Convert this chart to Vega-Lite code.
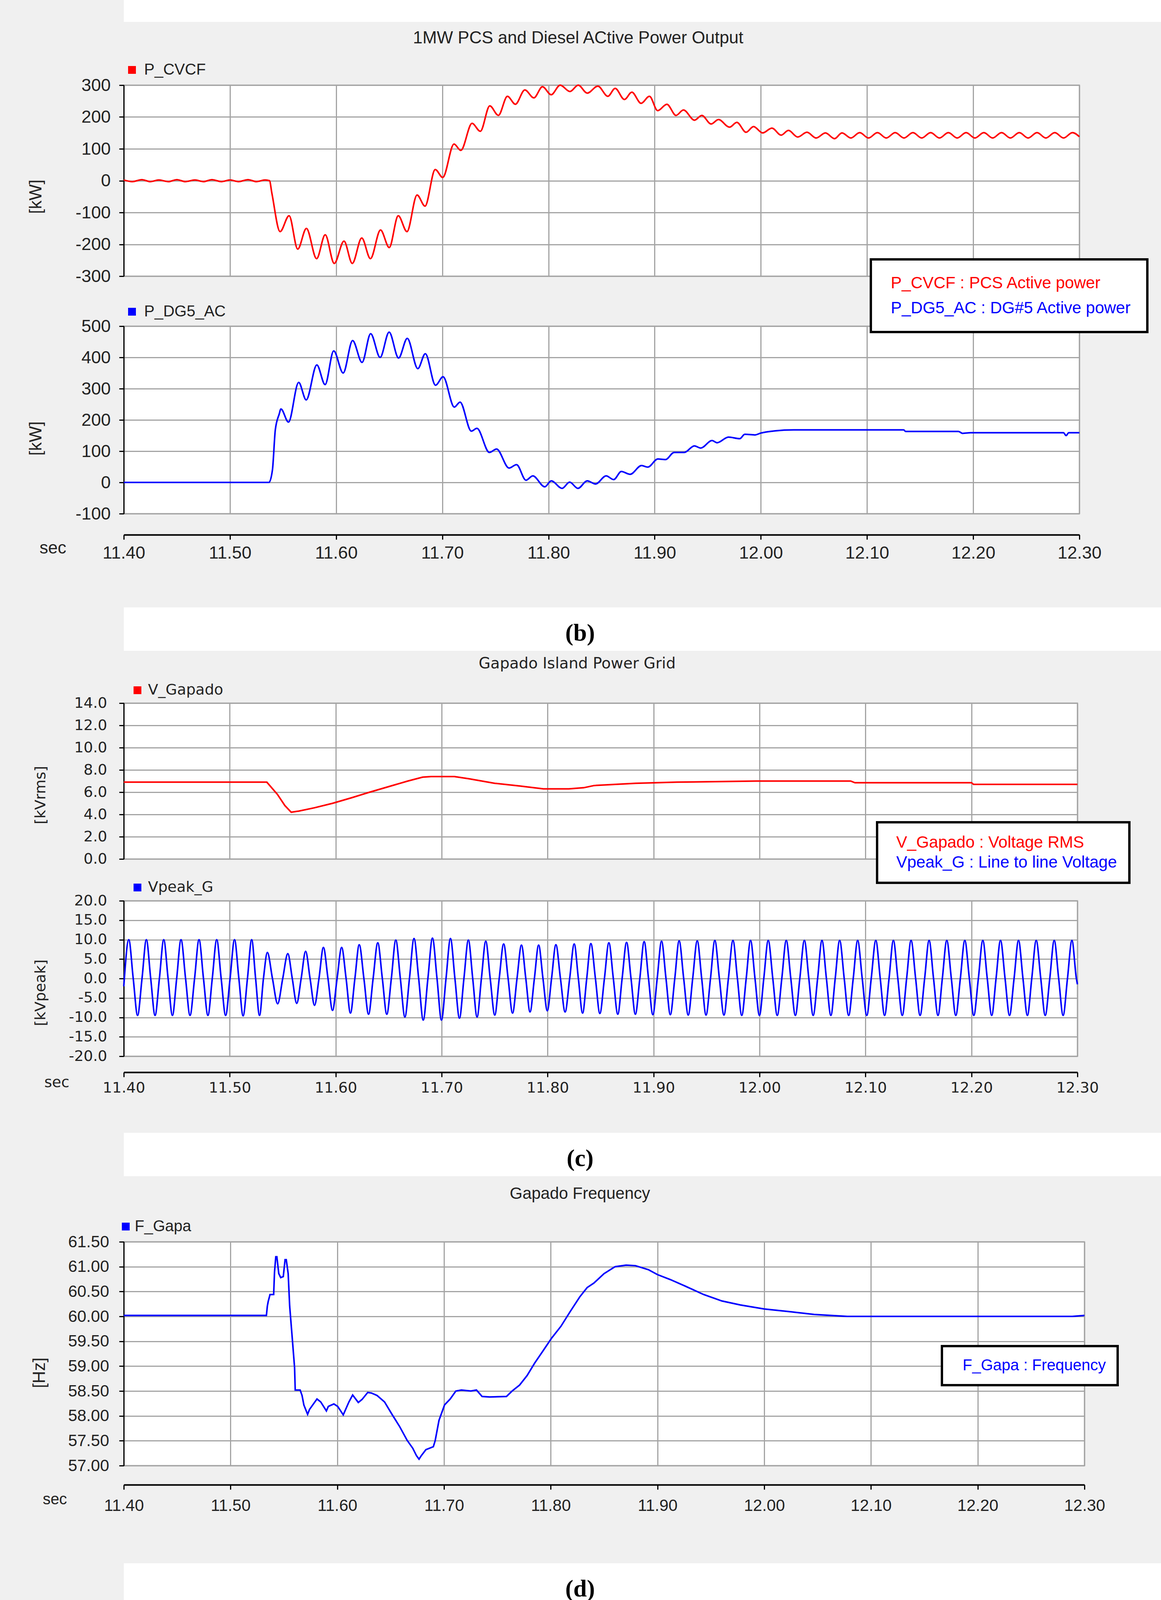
{
  "$schema": "https://vega.github.io/schema/vega-lite/v6.json",
  "background": "#f0f0f0",
  "padding": {"left": 68, "top": 0, "right": 0, "bottom": 0},
  "bounds": "flush",
  "spacing": 0,
  "resolve": {"scale": {"color": "independent", "fill": "independent"}, "legend": {"color": "independent", "fill": "independent"}},
  "config": {
    "axis": {"gridColor": "#a4a4a4", "gridWidth": 3, "domainColor": "#000000", "domainWidth": 3, "tickColor": "#000000", "tickWidth": 3, "tickSize": 12, "labelColor": "#222222", "titleColor": "#222222", "titleFontWeight": "normal", "labelOverlap": false, "labelFlush": false},
    "legend": {"labelLimit": 3000}
  },
  "datasets": {
    "pcvcf": [
      {"t":11.4,"v":2},{"t":11.408,"v":-3},{"t":11.417,"v":3},{"t":11.425,"v":-3},{"t":11.433,"v":2},{"t":11.442,"v":-3},{"t":11.45,"v":3},{"t":11.458,"v":-3},{"t":11.467,"v":2},{"t":11.475,"v":-3},{"t":11.483,"v":3},{"t":11.492,"v":-3},{"t":11.5,"v":2},{"t":11.508,"v":-3},{"t":11.517,"v":3},{"t":11.525,"v":-3},{"t":11.533,"v":2},{"t":11.5372,"v":0},
      {"t":11.5395,"v":-40},{"t":11.5472,"v":-160},{"t":11.5557,"v":-110},{"t":11.5638,"v":-215},{"t":11.572,"v":-150},{"t":11.5816,"v":-245},{"t":11.5897,"v":-170},{"t":11.5982,"v":-260},{"t":11.6074,"v":-190},{"t":11.6152,"v":-260},{"t":11.6241,"v":-180},{"t":11.6323,"v":-245},{"t":11.6418,"v":-155},{"t":11.65,"v":-210},{"t":11.6585,"v":-110},{"t":11.6667,"v":-160},{"t":11.6762,"v":-45},{"t":11.6837,"v":-80},{"t":11.6933,"v":35},{"t":11.7004,"v":10},{"t":11.711,"v":115},{"t":11.7174,"v":95},{"t":11.728,"v":180},{"t":11.7358,"v":155},{"t":11.7447,"v":235},{"t":11.7528,"v":205},{"t":11.7613,"v":265},{"t":11.7688,"v":240},{"t":11.7777,"v":285},{"t":11.7862,"v":260},{"t":11.7943,"v":295},{"t":11.8025,"v":270},{"t":11.811,"v":300},{"t":11.8202,"v":280},{"t":11.828,"v":300},{"t":11.8365,"v":275},{"t":11.8465,"v":297},{"t":11.8559,"v":265},{"t":11.8628,"v":290},{"t":11.8715,"v":255},{"t":11.8785,"v":278},{"t":11.8872,"v":243},{"t":11.8951,"v":265},{"t":11.9028,"v":220},{"t":11.9115,"v":240},{"t":11.9201,"v":205},{"t":11.9271,"v":222},{"t":11.9375,"v":190},{"t":11.9444,"v":205},{"t":11.9531,"v":178},{"t":11.9601,"v":192},{"t":11.9705,"v":168},{"t":11.9774,"v":183},{"t":11.9861,"v":152},{"t":11.9931,"v":170},{"t":12.0017,"v":150},{"t":12.0104,"v":165},{"t":12.0191,"v":143},{"t":12.026,"v":158},{"t":12.0347,"v":137},{"t":12.0434,"v":152},{"t":12.0521,"v":134},{"t":12.0608,"v":150},{"t":12.0694,"v":132},{"t":12.0764,"v":150},
      {"t":12.0848,"v":134},{"t":12.0931,"v":151},{"t":12.1014,"v":134},{"t":12.1098,"v":151},{"t":12.1181,"v":134},{"t":12.1265,"v":151},{"t":12.1348,"v":134},{"t":12.1432,"v":151},{"t":12.1515,"v":134},{"t":12.1599,"v":151},{"t":12.1682,"v":134},{"t":12.1766,"v":151},{"t":12.1849,"v":134},{"t":12.1933,"v":151},{"t":12.2016,"v":134},{"t":12.21,"v":151},{"t":12.2183,"v":134},{"t":12.2267,"v":151},{"t":12.235,"v":134},{"t":12.2434,"v":151},{"t":12.2517,"v":134},{"t":12.2601,"v":151},{"t":12.2684,"v":134},{"t":12.2768,"v":151},{"t":12.2851,"v":134},{"t":12.2935,"v":151},{"t":12.3,"v":138}
    ],
    "pdg5": [
      {"t":11.4,"v":0},{"t":11.5367,"v":0},{"t":11.54,"v":40},{"t":11.5427,"v":168},{"t":11.5463,"v":218},{"t":11.548,"v":235},{"t":11.5551,"v":193},{"t":11.5647,"v":320},{"t":11.5718,"v":264},{"t":11.5818,"v":376},{"t":11.5896,"v":313},{"t":11.5977,"v":421},{"t":11.6066,"v":350},{"t":11.6155,"v":454},{"t":11.6244,"v":384},{"t":11.6325,"v":476},{"t":11.6414,"v":400},{"t":11.6499,"v":481},{"t":11.6588,"v":398},{"t":11.667,"v":461},{"t":11.6769,"v":364},{"t":11.684,"v":412},{"t":11.6936,"v":311},{"t":11.7007,"v":338},{"t":11.7113,"v":241},{"t":11.7167,"v":257},{"t":11.7273,"v":164},{"t":11.7326,"v":173},{"t":11.7443,"v":96},{"t":11.7511,"v":107},{"t":11.7628,"v":46},{"t":11.7699,"v":57},{"t":11.7788,"v":7},{"t":11.7852,"v":21},{"t":11.7965,"v":-14},{"t":11.8026,"v":5},{"t":11.8128,"v":-19},{"t":11.8199,"v":1},{"t":11.8277,"v":-19},{"t":11.8365,"v":5},{"t":11.8443,"v":-5},{"t":11.8543,"v":21},{"t":11.8614,"v":9},{"t":11.8686,"v":35},{"t":11.8769,"v":26},{"t":11.8876,"v":54},{"t":11.8935,"v":49},{"t":11.903,"v":75},{"t":11.9101,"v":73},{"t":11.9184,"v":96},{"t":11.9279,"v":96},{"t":11.9374,"v":117},{"t":11.9434,"v":110},{"t":11.954,"v":134},{"t":11.9588,"v":127},{"t":11.9695,"v":145},{"t":11.9801,"v":140},{"t":11.9849,"v":154},{"t":11.9944,"v":152},{"t":12.0,"v":158},{"t":12.0134,"v":165},{"t":12.0308,"v":168},{"t":12.1346,"v":168},{"t":12.1363,"v":163},{"t":12.1861,"v":163},{"t":12.19,"v":157},{"t":12.1976,"v":159},{"t":12.285,"v":159},{"t":12.2875,"v":150},{"t":12.29,"v":159},{"t":12.3,"v":159}
    ],
    "vgap": [
      {"t":11.4,"v":6.9},{"t":11.535,"v":6.9},{"t":11.545,"v":5.8},{"t":11.552,"v":4.8},{"t":11.558,"v":4.2},{"t":11.565,"v":4.3},{"t":11.58,"v":4.6},{"t":11.597,"v":5.0},{"t":11.615,"v":5.5},{"t":11.632,"v":6.0},{"t":11.65,"v":6.5},{"t":11.668,"v":7.0},{"t":11.682,"v":7.35},{"t":11.69,"v":7.4},{"t":11.712,"v":7.4},{"t":11.726,"v":7.2},{"t":11.75,"v":6.8},{"t":11.774,"v":6.55},{"t":11.796,"v":6.3},{"t":11.82,"v":6.3},{"t":11.834,"v":6.4},{"t":11.844,"v":6.6},{"t":11.883,"v":6.8},{"t":11.922,"v":6.9},{"t":11.997,"v":7.0},{"t":12.086,"v":7.0},{"t":12.09,"v":6.85},{"t":12.2,"v":6.85},{"t":12.202,"v":6.7},{"t":12.3,"v":6.7}
    ],
    "vpeak": [
      {"t":11.4,"v":-2},
      {"t":11.4047,"v":10},{"t":11.4089,"v":0},{"t":11.413,"v":-9.5},{"t":11.4172,"v":0},
      {"t":11.4213,"v":10},{"t":11.4254,"v":0},{"t":11.4295,"v":-9.5},{"t":11.4336,"v":0},
      {"t":11.4377,"v":10},{"t":11.4418,"v":0},{"t":11.4459,"v":-9.5},{"t":11.4499,"v":0},
      {"t":11.454,"v":10},{"t":11.4583,"v":0},{"t":11.4625,"v":-9.5},{"t":11.4668,"v":0},
      {"t":11.471,"v":10},{"t":11.4752,"v":0},{"t":11.4794,"v":-9.5},{"t":11.4835,"v":0},
      {"t":11.4877,"v":10},{"t":11.4919,"v":0},{"t":11.4961,"v":-9.5},{"t":11.5003,"v":0},
      {"t":11.5045,"v":10},{"t":11.5086,"v":0},{"t":11.5126,"v":-9.6},{"t":11.5167,"v":0},
      {"t":11.5207,"v":10},{"t":11.5244,"v":0},{"t":11.5281,"v":-9.5},{"t":11.5318,"v":0},
      {"t":11.5355,"v":6.7},{"t":11.5403,"v":0},{"t":11.5452,"v":-6.5},{"t":11.55,"v":0},
      {"t":11.5548,"v":6.4},{"t":11.559,"v":0},{"t":11.5632,"v":-6.4},{"t":11.5674,"v":0},
      {"t":11.5716,"v":7.0},{"t":11.5758,"v":0},{"t":11.58,"v":-6.9},{"t":11.5842,"v":0},
      {"t":11.5884,"v":8.0},{"t":11.5927,"v":0},{"t":11.597,"v":-8.2},{"t":11.6013,"v":0},
      {"t":11.6056,"v":8.0},{"t":11.6098,"v":0},{"t":11.6139,"v":-8.9},{"t":11.6181,"v":0},
      {"t":11.6222,"v":8.7},{"t":11.6266,"v":0},{"t":11.631,"v":-9.2},{"t":11.6353,"v":0},
      {"t":11.6397,"v":9.2},{"t":11.644,"v":0},{"t":11.6482,"v":-9.2},{"t":11.6525,"v":0},
      {"t":11.6567,"v":9.9},{"t":11.661,"v":0},{"t":11.6653,"v":-9.9},{"t":11.6696,"v":0},
      {"t":11.6739,"v":10.3},{"t":11.6783,"v":0},{"t":11.6826,"v":-10.7},{"t":11.687,"v":0},
      {"t":11.6913,"v":10.4},{"t":11.6956,"v":0},{"t":11.6998,"v":-10.7},{"t":11.7041,"v":0},
      {"t":11.7083,"v":10.3},{"t":11.7125,"v":0},{"t":11.7168,"v":-10.2},{"t":11.721,"v":0},
      {"t":11.7252,"v":9.9},{"t":11.7293,"v":0},{"t":11.7334,"v":-9.9},{"t":11.7375,"v":0},
      {"t":11.7416,"v":9.6},{"t":11.7458,"v":0},{"t":11.7501,"v":-9.4},{"t":11.7543,"v":0},
      {"t":11.7585,"v":8.9},{"t":11.7627,"v":0},{"t":11.7669,"v":-8.9},{"t":11.7711,"v":0},
      {"t":11.7753,"v":8.6},{"t":11.7794,"v":0},{"t":11.7834,"v":-8.6},{"t":11.7875,"v":0},
      {"t":11.7915,"v":8.6},{"t":11.7956,"v":0},{"t":11.7997,"v":-8.3},{"t":11.8037,"v":0},
      {"t":11.8078,"v":8.7},{"t":11.8121,"v":0},{"t":11.8165,"v":-8.6},{"t":11.8208,"v":0},
      {"t":11.8251,"v":8.9},{"t":11.829,"v":0},{"t":11.833,"v":-8.9},{"t":11.8369,"v":0},
      {"t":11.8408,"v":9.0},{"t":11.8451,"v":0},{"t":11.8493,"v":-9.0},{"t":11.8536,"v":0},
      {"t":11.8578,"v":9.2},{"t":11.862,"v":0},{"t":11.8662,"v":-9.2},{"t":11.8703,"v":0},
      {"t":11.8745,"v":9.3},{"t":11.8787,"v":0},{"t":11.8828,"v":-9.2},{"t":11.887,"v":0},
      {"t":11.8911,"v":9.5},{"t":11.8952,"v":0},{"t":11.8993,"v":-9.3},{"t":11.9034,"v":0},
      {"t":11.9075,"v":9.6},{"t":11.9117,"v":0},{"t":11.9158,"v":-9.3},{"t":11.92,"v":0},
      {"t":11.9241,"v":9.7},{"t":11.9284,"v":0},{"t":11.9327,"v":-9.4},{"t":11.9369,"v":0},
      {"t":11.9412,"v":9.7},{"t":11.9454,"v":0},{"t":11.9495,"v":-9.4},{"t":11.9537,"v":0},
      {"t":11.9578,"v":9.8},{"t":11.9621,"v":0},{"t":11.9664,"v":-9.4},{"t":11.9706,"v":0},
      {"t":11.9749,"v":9.8},{"t":11.9791,"v":0},{"t":11.9832,"v":-9.5},{"t":11.9874,"v":0},
      {"t":11.9915,"v":9.8},{"t":11.9957,"v":0},{"t":11.9999,"v":-9.5},{"t":12.004,"v":0},
      {"t":12.0082,"v":9.8},{"t":12.0125,"v":0},{"t":12.0167,"v":-9.5},{"t":12.021,"v":0},
      {"t":12.0252,"v":9.8},{"t":12.0295,"v":0},{"t":12.0338,"v":-9.5},{"t":12.038,"v":0},
      {"t":12.0423,"v":9.8},{"t":12.0465,"v":0},{"t":12.0506,"v":-9.5},{"t":12.0548,"v":0},
      {"t":12.0589,"v":9.8},{"t":12.0631,"v":0},{"t":12.0673,"v":-9.5},{"t":12.0714,"v":0},
      {"t":12.0756,"v":9.8},{"t":12.0799,"v":0},{"t":12.0841,"v":-9.5},{"t":12.0884,"v":0},
      {"t":12.0926,"v":9.8},{"t":12.0969,"v":0},{"t":12.1012,"v":-9.5},{"t":12.1054,"v":0},
      {"t":12.1097,"v":9.8},{"t":12.1139,"v":0},{"t":12.118,"v":-9.5},{"t":12.1222,"v":0},
      {"t":12.1263,"v":9.8},{"t":12.1305,"v":0},{"t":12.1347,"v":-9.5},{"t":12.1388,"v":0},
      {"t":12.143,"v":9.8},{"t":12.1473,"v":0},{"t":12.1515,"v":-9.5},{"t":12.1558,"v":0},
      {"t":12.16,"v":9.8},{"t":12.1642,"v":0},{"t":12.1684,"v":-9.5},{"t":12.1725,"v":0},
      {"t":12.1767,"v":9.8},{"t":12.181,"v":0},{"t":12.1852,"v":-9.5},{"t":12.1895,"v":0},
      {"t":12.1937,"v":9.8},{"t":12.198,"v":0},{"t":12.2022,"v":-9.5},{"t":12.2065,"v":0},
      {"t":12.2107,"v":9.8},{"t":12.2149,"v":0},{"t":12.2191,"v":-9.5},{"t":12.2232,"v":0},
      {"t":12.2274,"v":9.8},{"t":12.2317,"v":0},{"t":12.2359,"v":-9.5},{"t":12.2402,"v":0},
      {"t":12.2444,"v":9.8},{"t":12.2486,"v":0},{"t":12.2528,"v":-9.5},{"t":12.2569,"v":0},
      {"t":12.2611,"v":9.8},{"t":12.2654,"v":0},{"t":12.2696,"v":-9.5},{"t":12.2739,"v":0},
      {"t":12.2781,"v":9.8},{"t":12.2823,"v":0},{"t":12.2865,"v":-9.5},{"t":12.2906,"v":0},
      {"t":12.2948,"v":9.8},{"t":12.299,"v":0},{"t":12.3,"v":-1.5}
    ],
    "fgapa": [
      {"t":11.4,"v":60.02},{"t":11.5336,"v":60.02},{"t":11.5345,"v":60.21},{"t":11.5353,"v":60.3},{"t":11.537,"v":60.44},{"t":11.5404,"v":60.44},{"t":11.5412,"v":60.89},{"t":11.5424,"v":61.2},{"t":11.5434,"v":61.2},{"t":11.5452,"v":60.86},{"t":11.547,"v":60.78},{"t":11.5494,"v":60.8},{"t":11.5511,"v":61.14},{"t":11.5522,"v":61.14},{"t":11.554,"v":60.86},{"t":11.5554,"v":60.21},{"t":11.5582,"v":59.46},{"t":11.56,"v":58.97},{"t":11.5606,"v":58.52},{"t":11.5652,"v":58.52},{"t":11.567,"v":58.41},{"t":11.5687,"v":58.22},{"t":11.5722,"v":58.03},{"t":11.574,"v":58.13},{"t":11.581,"v":58.34},{"t":11.5845,"v":58.28},{"t":11.5898,"v":58.1},{"t":11.5916,"v":58.19},{"t":11.5968,"v":58.24},{"t":11.6004,"v":58.19},{"t":11.6056,"v":58.02},{"t":11.6109,"v":58.28},{"t":11.6144,"v":58.42},{"t":11.6197,"v":58.27},{"t":11.6232,"v":58.33},{"t":11.6285,"v":58.47},{"t":11.632,"v":58.46},{"t":11.6373,"v":58.41},{"t":11.6443,"v":58.28},{"t":11.6513,"v":58.03},{"t":11.6583,"v":57.79},{"t":11.6654,"v":57.51},{"t":11.6707,"v":57.35},{"t":11.6742,"v":57.2},{"t":11.6766,"v":57.13},{"t":11.6787,"v":57.2},{"t":11.683,"v":57.32},{"t":11.69,"v":57.38},{"t":11.6917,"v":57.5},{"t":11.6953,"v":57.91},{"t":11.7005,"v":58.22},{"t":11.7058,"v":58.34},{"t":11.7111,"v":58.5},{"t":11.7163,"v":58.52},{"t":11.7251,"v":58.5},{"t":11.7304,"v":58.52},{"t":11.7357,"v":58.39},{"t":11.7427,"v":58.38},{"t":11.7585,"v":58.39},{"t":11.7638,"v":58.5},{"t":11.7708,"v":58.62},{"t":11.7778,"v":58.81},{"t":11.7849,"v":59.06},{"t":11.7919,"v":59.28},{"t":11.8007,"v":59.56},{"t":11.8095,"v":59.8},{"t":11.8183,"v":60.1},{"t":11.8271,"v":60.39},{"t":11.8341,"v":60.58},{"t":11.8404,"v":60.67},{"t":11.8499,"v":60.86},{"t":11.8603,"v":61.0},{"t":11.8706,"v":61.03},{"t":11.8793,"v":61.02},{"t":11.8914,"v":60.94},{"t":11.9,"v":60.84},{"t":11.9121,"v":60.74},{"t":11.9259,"v":60.61},{"t":11.9432,"v":60.44},{"t":11.9604,"v":60.31},{"t":11.9777,"v":60.23},{"t":12.0,"v":60.15},{"t":12.0261,"v":60.09},{"t":12.0468,"v":60.04},{"t":12.0779,"v":60.0},{"t":12.2886,"v":60.0},{"t":12.3,"v":60.02}
    ]
  },
  "vconcat": [
    {"width": 2657, "height": 56, "data": {"values": [{}]}, "mark": {"type": "text", "text": ""}, "encoding": {}, "view": {"fill": "#ffffff", "stroke": null}},
    {"width": 2447, "height": 162, "data": {"values": [{}]}, "mark": {"type": "text", "text": ""}, "encoding": {}, "view": {"stroke": null}},
    {
      "width": 2447, "height": 489,
      "view": {"fill": "#ffffff", "stroke": "#a4a4a4", "strokeWidth": 3},
      "title": {"text": "1MW PCS and Diesel ACtive Power Output", "font": "Liberation Sans", "fontSize": 44, "fontWeight": "normal", "color": "#222222", "anchor": "middle", "frame": "group", "baseline": "middle", "dx": -60, "offset": 17},
      "data": {"name": "pcvcf"},
      "mark": {"type": "line", "strokeWidth": 4, "interpolate": "monotone"},
      "encoding": {
        "x": {"field": "t", "type": "quantitative", "scale": {"domain": [11.4, 12.3], "nice": false, "zero": false},
          "axis": {"values": [11.4, 11.5, 11.6, 11.7, 11.8, 11.9, 12.0, 12.1, 12.2, 12.3], "grid": true, "labels": false, "ticks": false, "domain": false, "title": null}},
        "y": {"field": "v", "type": "quantitative", "scale": {"domain": [-300, 300], "nice": false, "zero": false},
          "axis": {"values": [-300, -200, -100, 0, 100, 200, 300], "grid": true, "labelExpr": "replace(datum.label, '−', '-')", "labelFont": "Liberation Sans", "labelFontSize": 45, "labelPadding": 22,
            "title": "[kW]", "titleFont": "Liberation Sans", "titleFontSize": 44, "titleX": -225, "titleY": 285, "titleAngle": 270, "titleAlign": "center", "titleBaseline": "middle"}},
        "color": {"datum": "P_CVCF", "type": "nominal", "scale": {"domain": ["P_CVCF"], "range": ["#ff0000"]},
          "legend": {"orient": "none", "legendX": 1, "legendY": -59, "title": null, "symbolType": "square", "symbolSize": 400, "labelFont": "Liberation Sans", "labelFontSize": 40, "labelColor": "#222222", "labelOffset": 11, "padding": 0,
            "encode": {"symbols": {"update": {"fill": {"value": "#ff0000"}, "strokeWidth": {"value": 0}}}}}}
      }
    },
    {"width": 2447, "height": 128, "data": {"values": [{}]}, "mark": {"type": "text", "text": ""}, "encoding": {}, "view": {"stroke": null}},
    {
      "width": 2447, "height": 480,
      "view": {"fill": "#ffffff", "stroke": "#a4a4a4", "strokeWidth": 3},
      "layer": [
        {
          "data": {"name": "pdg5"},
          "mark": {"type": "line", "strokeWidth": 4, "interpolate": "monotone"},
          "encoding": {
            "x": {"field": "t", "type": "quantitative", "scale": {"domain": [11.4, 12.3], "nice": false, "zero": false},
              "axis": {"values": [11.4, 11.5, 11.6, 11.7, 11.8, 11.9, 12.0, 12.1, 12.2, 12.3], "grid": true, "format": ".2f", "labelFont": "Liberation Sans", "labelFontSize": 45, "labelPadding": 34, "labelBaseline": "middle", "domainWidth": 4, "offset": 54,
                "title": "sec", "titleFont": "Liberation Sans", "titleFontSize": 44, "titleX": -182, "titleY": 34, "titleAngle": 0, "titleAlign": "center", "titleBaseline": "middle"}},
            "y": {"field": "v", "type": "quantitative", "scale": {"domain": [-100, 500], "nice": false, "zero": false},
              "axis": {"values": [-100, 0, 100, 200, 300, 400, 500], "grid": true, "labelExpr": "replace(datum.label, '−', '-')", "labelFont": "Liberation Sans", "labelFontSize": 45, "labelPadding": 22,
                "title": "[kW]", "titleFont": "Liberation Sans", "titleFontSize": 44, "titleX": -225, "titleY": 287, "titleAngle": 270, "titleAlign": "center", "titleBaseline": "middle"}},
            "color": {"datum": "P_DG5_AC", "type": "nominal", "scale": {"domain": ["P_DG5_AC"], "range": ["#0000ff"]},
              "legend": {"orient": "none", "legendX": 1, "legendY": -57, "title": null, "symbolType": "square", "symbolSize": 400, "labelFont": "Liberation Sans", "labelFontSize": 40, "labelColor": "#222222", "labelOffset": 11, "padding": 0,
                "encode": {"symbols": {"update": {"fill": {"value": "#0000ff"}, "strokeWidth": {"value": 0}}}}}}
          }
        },
        {
          "data": {"values": [{"d": "P_CVCF : PCS Active power"}, {"d": "P_DG5_AC : DG#5 Active power\u00a0\u00a0"}]},
          "mark": {"type": "point", "opacity": 0, "filled": true},
          "encoding": {
            "fill": {"field": "d", "type": "nominal", "scale": {"domain": ["P_CVCF : PCS Active power", "P_DG5_AC : DG#5 Active power\u00a0\u00a0"], "range": ["#ff0000", "#0000ff"]},
              "legend": {"orient": "none", "legendX": 1913, "legendY": -171, "title": null, "fillColor": "#ffffff", "strokeColor": "#000000", "padding": 40, "rowPadding": 22, "labelOffset": -31, "symbolSize": 0, "symbolStrokeWidth": 0, "labelFont": "Liberation Sans", "labelFontSize": 42,
                "encode": {"legend": {"update": {"strokeWidth": {"value": 6}}}, "labels": {"update": {"fill": {"signal": "indexof(datum.label, 'P_CVCF') === 0 ? '#ff0000' : '#0000ff'"}}}}}}
          }
        }
      ]
    },
    {"width": 2447, "height": 240, "data": {"values": [{}]}, "mark": {"type": "text", "text": ""}, "encoding": {}, "view": {"stroke": null}},
    {"width": 2657, "height": 111, "data": {"values": [{"c": "(b)"}]}, "mark": {"type": "text", "font": "Liberation Serif", "fontSize": 62, "fontWeight": "bold", "color": "#000000", "dx": -160, "dy": 10}, "encoding": {"text": {"field": "c"}}, "view": {"fill": "#ffffff", "stroke": null}},
    {"width": 2442, "height": 134, "data": {"values": [{}]}, "mark": {"type": "text", "text": ""}, "encoding": {}, "view": {"stroke": null}},
    {
      "width": 2442, "height": 399,
      "view": {"fill": "#ffffff", "stroke": "#a4a4a4", "strokeWidth": 3},
      "title": {"text": "Gapado Island Power Grid", "font": "DejaVu Sans", "fontSize": 39, "fontWeight": "normal", "color": "#222222", "anchor": "middle", "frame": "group", "baseline": "middle", "dx": -60, "offset": 10},
      "layer": [
        {
          "data": {"name": "vgap"},
          "mark": {"type": "line", "strokeWidth": 4},
          "encoding": {
            "x": {"field": "t", "type": "quantitative", "scale": {"domain": [11.4, 12.3], "nice": false, "zero": false},
              "axis": {"values": [11.4, 11.5, 11.6, 11.7, 11.8, 11.9, 12.0, 12.1, 12.2, 12.3], "grid": true, "labels": false, "ticks": false, "domain": false, "title": null}},
            "y": {"field": "v", "type": "quantitative", "scale": {"domain": [0, 14], "nice": false, "zero": false},
              "axis": {"values": [0, 2, 4, 6, 8, 10, 12, 14], "grid": true, "format": ".1f", "labelFont": "DejaVu Sans", "labelFontSize": 38, "labelPadding": 31,
                "title": "[kVrms]", "titleFont": "DejaVu Sans", "titleFontSize": 38, "titleX": -213, "titleY": 235, "titleAngle": 270, "titleAlign": "center", "titleBaseline": "middle"}},
            "color": {"datum": "V_Gapado", "type": "nominal", "scale": {"domain": ["V_Gapado"], "range": ["#ff0000"]},
              "legend": {"orient": "none", "legendX": 16, "legendY": -52, "title": null, "symbolType": "square", "symbolSize": 400, "labelFont": "DejaVu Sans", "labelFontSize": 38, "labelColor": "#222222", "labelOffset": 8, "padding": 0,
                "encode": {"symbols": {"update": {"fill": {"value": "#ff0000"}, "strokeWidth": {"value": 0}}}}}}
          }
        },
        {
          "data": {"values": [{"d": "V_Gapado : Voltage RMS"}, {"d": "Vpeak_G : Line to line Voltage\u00a0\u00a0\u00a0\u00a0\u00a0"}]},
          "mark": {"type": "point", "opacity": 0, "filled": true},
          "encoding": {
            "fill": {"field": "d", "type": "nominal", "scale": {"domain": ["V_Gapado : Voltage RMS", "Vpeak_G : Line to line Voltage\u00a0\u00a0\u00a0\u00a0\u00a0"], "range": ["#ff0000", "#0000ff"]},
              "legend": {"orient": "none", "legendX": 1929, "legendY": 305, "title": null, "fillColor": "#ffffff", "strokeColor": "#000000", "padding": 31, "rowPadding": 9, "labelOffset": -24, "symbolSize": 0, "symbolStrokeWidth": 0, "labelFont": "Liberation Sans", "labelFontSize": 42,
                "encode": {"legend": {"update": {"strokeWidth": {"value": 6}}}, "labels": {"update": {"fill": {"signal": "indexof(datum.label, 'V_Gapado') === 0 ? '#ff0000' : '#0000ff'"}}}}}}
          }
        }
      ]
    },
    {"width": 2442, "height": 107, "data": {"values": [{}]}, "mark": {"type": "text", "text": ""}, "encoding": {}, "view": {"stroke": null}},
    {
      "width": 2442, "height": 398,
      "view": {"fill": "#ffffff", "stroke": "#a4a4a4", "strokeWidth": 3},
      "data": {"name": "vpeak"},
      "mark": {"type": "line", "strokeWidth": 4, "interpolate": "monotone"},
      "encoding": {
        "x": {"field": "t", "type": "quantitative", "scale": {"domain": [11.4, 12.3], "nice": false, "zero": false},
          "axis": {"values": [11.4, 11.5, 11.6, 11.7, 11.8, 11.9, 12.0, 12.1, 12.2, 12.3], "grid": true, "format": ".2f", "labelFont": "DejaVu Sans", "labelFontSize": 38, "labelPadding": 28, "labelBaseline": "middle", "domainWidth": 4, "offset": 41,
            "title": "sec", "titleFont": "DejaVu Sans", "titleFontSize": 38, "titleX": -172, "titleY": 26, "titleAngle": 0, "titleAlign": "center", "titleBaseline": "middle"}},
        "y": {"field": "v", "type": "quantitative", "scale": {"domain": [-20, 20], "nice": false, "zero": false},
          "axis": {"values": [-20, -15, -10, -5, 0, 5, 10, 15, 20], "grid": true, "format": ".1f", "labelExpr": "replace(datum.label, '−', '-')", "labelFont": "DejaVu Sans", "labelFontSize": 38, "labelPadding": 31,
            "title": "[kVpeak]", "titleFont": "DejaVu Sans", "titleFontSize": 38, "titleX": -213, "titleY": 235, "titleAngle": 270, "titleAlign": "center", "titleBaseline": "middle"}},
        "color": {"datum": "Vpeak_G", "type": "nominal", "scale": {"domain": ["Vpeak_G"], "range": ["#0000ff"]},
          "legend": {"orient": "none", "legendX": 16, "legendY": -53, "title": null, "symbolType": "square", "symbolSize": 400, "labelFont": "DejaVu Sans", "labelFontSize": 38, "labelColor": "#222222", "labelOffset": 8, "padding": 0,
            "encode": {"symbols": {"update": {"fill": {"value": "#0000ff"}, "strokeWidth": {"value": 0}}}}}}
      }
    },
    {"width": 2442, "height": 196, "data": {"values": [{}]}, "mark": {"type": "text", "text": ""}, "encoding": {}, "view": {"stroke": null}},
    {"width": 2657, "height": 111, "data": {"values": [{"c": "(c)"}]}, "mark": {"type": "text", "font": "Liberation Serif", "fontSize": 62, "fontWeight": "bold", "color": "#000000", "dx": -160, "dy": 10}, "encoding": {"text": {"field": "c"}}, "view": {"fill": "#ffffff", "stroke": null}},
    {"width": 2460, "height": 168, "data": {"values": [{}]}, "mark": {"type": "text", "text": ""}, "encoding": {}, "view": {"stroke": null}},
    {
      "width": 2460, "height": 573,
      "view": {"fill": "#ffffff", "stroke": "#a4a4a4", "strokeWidth": 3},
      "title": {"text": "Gapado Frequency", "font": "Liberation Sans", "fontSize": 42, "fontWeight": "normal", "color": "#222222", "anchor": "middle", "frame": "group", "baseline": "middle", "dx": -62, "offset": 22},
      "layer": [
        {
          "data": {"name": "fgapa"},
          "mark": {"type": "line", "strokeWidth": 4},
          "encoding": {
            "x": {"field": "t", "type": "quantitative", "scale": {"domain": [11.4, 12.3], "nice": false, "zero": false},
              "axis": {"values": [11.4, 11.5, 11.6, 11.7, 11.8, 11.9, 12.0, 12.1, 12.2, 12.3], "grid": true, "format": ".2f", "labelFont": "Liberation Sans", "labelFontSize": 42, "labelPadding": 41, "labelBaseline": "middle", "domainWidth": 4, "offset": 49,
                "title": "sec", "titleFont": "Liberation Sans", "titleFontSize": 40, "titleX": -177, "titleY": 37, "titleAngle": 0, "titleAlign": "center", "titleBaseline": "middle"}},
            "y": {"field": "v", "type": "quantitative", "scale": {"domain": [57, 61.5], "nice": false, "zero": false},
              "axis": {"values": [57, 57.5, 58, 58.5, 59, 59.5, 60, 60.5, 61, 61.5], "grid": true, "format": ".2f", "labelFont": "Liberation Sans", "labelFontSize": 42, "labelPadding": 26,
                "title": "[Hz]", "titleFont": "Liberation Sans", "titleFontSize": 44, "titleX": -216, "titleY": 335, "titleAngle": 270, "titleAlign": "center", "titleBaseline": "middle"}},
            "color": {"datum": "F_Gapa", "type": "nominal", "scale": {"domain": ["F_Gapa"], "range": ["#0000ff"]},
              "legend": {"orient": "none", "legendX": -15, "legendY": -59, "title": null, "symbolType": "square", "symbolSize": 400, "labelFont": "Liberation Sans", "labelFontSize": 40, "labelColor": "#222222", "labelOffset": 3, "padding": 0,
                "encode": {"symbols": {"update": {"fill": {"value": "#0000ff"}, "strokeWidth": {"value": 0}}}}}}
          }
        },
        {
          "data": {"values": [{"d": "F_Gapa : Frequency\u00a0\u00a0\u00a0\u00a0\u00a0\u00a0\u00a0"}]},
          "mark": {"type": "point", "opacity": 0, "filled": true},
          "encoding": {
            "fill": {"field": "d", "type": "nominal", "scale": {"domain": ["F_Gapa : Frequency\u00a0\u00a0\u00a0\u00a0\u00a0\u00a0\u00a0"], "range": ["#0000ff"]},
              "legend": {"orient": "none", "legendX": 2095, "legendY": 267, "title": null, "fillColor": "#ffffff", "strokeColor": "#000000", "padding": 30, "labelOffset": -17, "symbolSize": 0, "symbolStrokeWidth": 0, "labelFont": "Liberation Sans", "labelFontSize": 40, "labelColor": "#0000ff",
                "encode": {"legend": {"update": {"strokeWidth": {"value": 6}}}, "labels": {"update": {"fill": {"value": "#0000ff"}}}}}}
          }
        }
      ]
    },
    {"width": 2460, "height": 250, "data": {"values": [{}]}, "mark": {"type": "text", "text": ""}, "encoding": {}, "view": {"stroke": null}},
    {"width": 2657, "height": 139, "data": {"values": [{"c": "(d)"}]}, "mark": {"type": "text", "font": "Liberation Serif", "fontSize": 62, "fontWeight": "bold", "color": "#000000", "dx": -160, "dy": -4}, "encoding": {"text": {"field": "c"}}, "view": {"fill": "#ffffff", "stroke": null}}
  ]
}
